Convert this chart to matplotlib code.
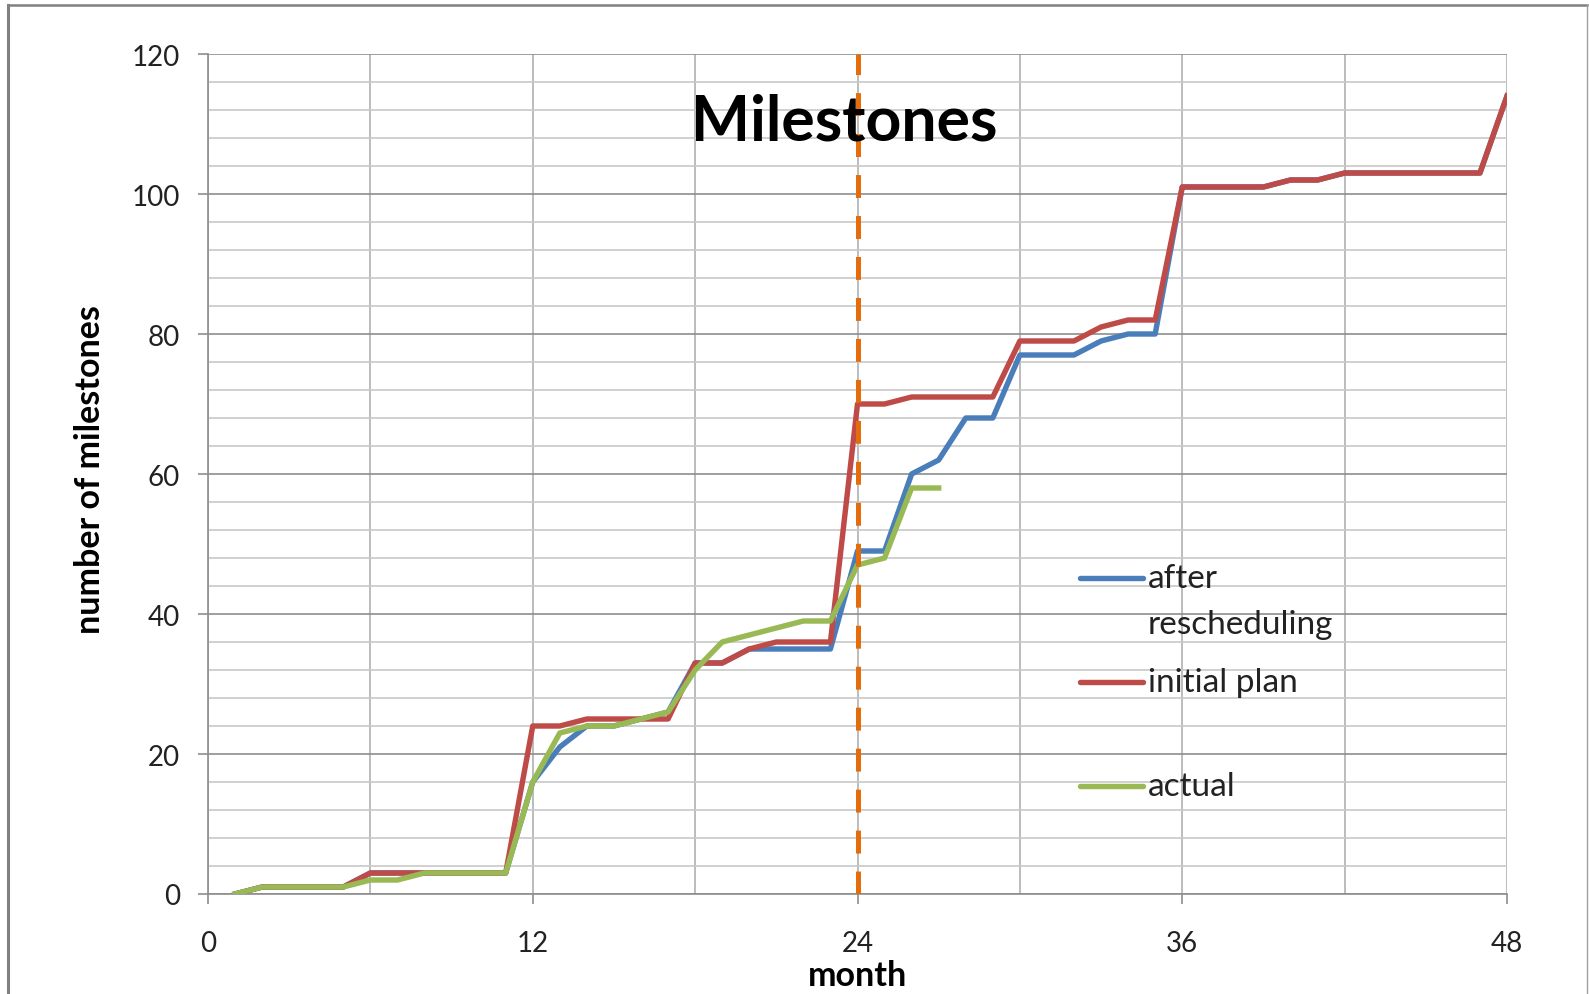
import matplotlib
matplotlib.use('Agg')
import matplotlib.pyplot as plt
from matplotlib.lines import Line2D
import numpy as np

plt.rcParams['font.family'] = ['Lato', 'DejaVu Sans']

# months 1..48
months = list(range(1, 49))
initial_plan = [0, 1, 1, 1, 1, 3, 3, 3, 3, 3, 3, 24,
                24, 25, 25, 25, 25, 33, 33, 35, 36, 36, 36, 70,
                70, 71, 71, 71, 71, 79, 79, 79, 81, 82, 82, 101,
                101, 101, 101, 102, 102, 103, 103, 103, 103, 103, 103, 114]
after_resched = [0, 1, 1, 1, 1, 3, 3, 3, 3, 3, 3, 16,
                 21, 24, 24, 25, 26, 33, 33, 35, 35, 35, 35, 49,
                 49, 60, 62, 68, 68, 77, 77, 77, 79, 80, 80, 101,
                 101, 101, 101, 102, 102, 103, 103, 103, 103, 103, 103, 114]
actual = [0, 1, 1, 1, 1, 2, 2, 3, 3, 3, 3, 16,
          23, 24, 24, 25, 26, 32, 36, 37, 38, 39, 39, 47,
          48, 58, 58]
today = 24

c_blue = '#4A7EBB'
c_red = '#BE4B48'
c_green = '#98B954'
c_orange = '#E46C0A'

W, H = 1589, 995
fig = plt.figure(figsize=(W/100, H/100), dpi=100)
ax = fig.add_axes([208/W, 1-895/H, (1507-208)/W, (895-55)/H])

lw = 3.9
ax.plot(months, after_resched, color=c_blue, lw=lw, zorder=3)
ax.plot(months, initial_plan, color=c_red, lw=lw, zorder=4)
ax.plot(months[:len(actual)], actual, color=c_green, lw=lw, zorder=5)
dlw = 3.6
ax.axvline(today, color=c_orange, lw=dlw, linestyle=(0, (16.5/dlw, 13/dlw)), zorder=6)

ax.set_xlim(0, 48)
ax.set_ylim(0, 120)
ax.set_xticks([0, 12, 24, 36, 48])
ax.set_xticks(np.arange(0, 49, 6), minor=True)
ax.set_yticks(np.arange(0, 121, 20))
ax.set_yticks(np.arange(0, 121, 4), minor=True)

ax.grid(True, axis='y', which='minor', color='#c8c8c8', lw=1.2, zorder=0)
ax.grid(True, axis='y', which='major', color='#8e8e8e', lw=1.2, zorder=1)
ax.grid(True, axis='x', which='both', color='#b0b0b0', lw=1.2, zorder=1)
ax.set_axisbelow(True)

for s in ['top', 'right']:
    ax.spines[s].set_visible(False)
for s in ['left', 'bottom']:
    ax.spines[s].set_color('#8e8e8e')
    ax.spines[s].set_linewidth(1.2)

ax.tick_params(which='major', length=7, width=1.2, color='#8e8e8e',
               labelsize=20, labelcolor='#222222')
ax.tick_params(axis='x', which='major', pad=19)
ax.tick_params(axis='y', which='major', pad=13)
ax.tick_params(which='minor', length=0)

ax.text(0.49, 0.92, 'Milestones', transform=ax.transAxes, ha='center', va='center',
        fontsize=45, fontweight='bold', color='black', zorder=10)

fig.text(90/W, 1-470/H, 'number of milestones', rotation=90, ha='center', va='center',
         fontsize=24.5, fontweight='bold')
fig.text(857/W, 1-976/H, 'month', ha='center', va='center',
         fontsize=24.5, fontweight='bold')

# legend
leg = [(c_blue, 579, ['after', 'rescheduling']),
       (c_red, 683, ['initial plan']),
       (c_green, 787, ['actual'])]
for col, yy, lines in leg:
    fig.add_artist(Line2D([1080/W, 1143/W], [1-yy/H, 1-yy/H], color=col, lw=lw,
                          solid_capstyle='round'))
    for k, t in enumerate(lines):
        fig.text(1148/W, 1-(yy+46*k)/H, t, ha='left', va='center', fontsize=24,
                 color='#222222')

# outer frame
fc = '#808080'
fig.add_artist(Line2D([8/W, 8/W], [0, 1-6/H], color=fc, lw=2.2))
fig.add_artist(Line2D([8/W, 1587/W], [1-6/H, 1-6/H], color=fc, lw=1.8))
fig.add_artist(Line2D([1587/W, 1587/W], [0, 1-6/H], color='#a0a0a0', lw=1))

fig.savefig('out.png', dpi=100)
